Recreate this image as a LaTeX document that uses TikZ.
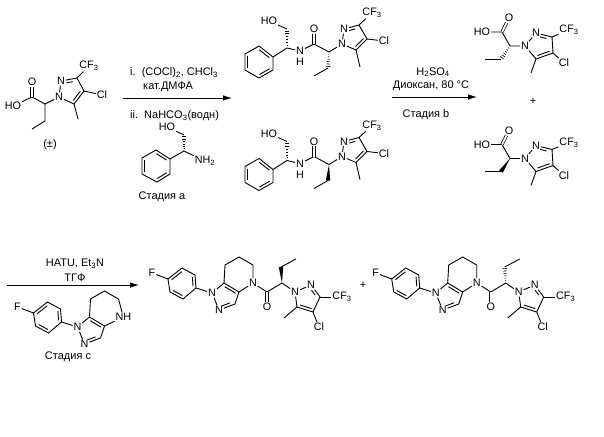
\documentclass[tikz,border=0pt]{standalone}
\usepackage{fontspec}
\setmainfont{Liberation Sans}
\usetikzlibrary{calc,arrows.meta}

\newcommand{\dbl}[3][.14]{\draw[bond] ($(#2)!#1!(#3)!2.8pt!90:(#3)$) -- ($(#3)!#1!(#2)!2.8pt!-90:(#2)$);}
\newcommand{\wedgeup}[2]{\fill ($(#1)$) -- ($(#2)!2.2pt!90:(#1)$) -- ($(#2)!2.2pt!-90:(#1)$) -- cycle;}
\newcommand{\wedgehash}[2]{\foreach \t in {.15,.3,.45,.6,.75,.9} \draw[line width=.6pt] ($(#1)!\t!(#2)!{\t*2.4pt}!90:(#2)$) -- ($(#1)!\t!(#2)!{\t*2.4pt}!-90:(#2)$);}

\newcommand{\benzene}[7]{
    \coordinate (#1a) at (#2);
    \coordinate (#1b) at (#3);
    \coordinate (#1c) at (#4);
    \coordinate (#1d) at (#5);
    \coordinate (#1e) at (#6);
    \coordinate (#1f) at (#7);
    \draw[bond] (#1a) -- (#1b) -- (#1c) -- (#1d) -- (#1e) -- (#1f) -- cycle;
    \dbl{#1a}{#1b}
    \dbl{#1c}{#1d}
    \dbl{#1e}{#1f}
}

\newcommand{\pyrazole}[9]{
    \node[atom] (#1n1) at (#2) {N};
    \node[atom] (#1n2) at (#3) {N};
    \coordinate (#1c3) at (#4);
    \coordinate (#1c4) at (#5);
    \coordinate (#1c5) at (#6);
    \node[atom] (#1cf) at (#7) {CF\textsubscript{3}};
    \node[atom] (#1cl) at (#8) {Cl};
    \coordinate (#1me) at (#9);
    \draw[bond] (#1n1) -- (#1n2) -- (#1c3) -- (#1c4) -- (#1c5) -- (#1n1);
    \dbl[.3]{#1c3}{#1n2}
    \dbl{#1c5}{#1c4}
    \draw[bond] (#1c3) -- (#1cf);
    \draw[bond] (#1c4) -- (#1cl);
    \draw[bond] (#1c5) -- (#1me);
}

\newcommand{\amide}[2]{
    \benzene{#1}{273,57}{259,46}{245,54}{245,70}{259,78}{273,70}
    \node[atom] (#1ho) at (269,21) {HO};
    \coordinate (#1ch2o) at (287,29);
    \coordinate (#1cs) at (287,48);
    \node[atom] (#1nh) at (300,51) {N};
    \node[atom] (#1h) at (300,62) {H};
    \coordinate (#1co) at (314,44);
    \node[atom] (#1o) at (314,29) {O};
    \coordinate (#1ch) at (329,52);
    \coordinate (#1et) at (328,68);
    \coordinate (#1me2) at (314,76);
    \pyrazole{#1p}{342,44}{344,29}{359,25}{367,39}{356,50}{372,13}{384,41}{360,67}
    \draw[bond] (#1ho) -- (#1ch2o);
    \wedgehash{#1cs}{#1ch2o}
    \draw[bond] (#1a) -- (#1cs) -- (#1nh) -- (#1co) -- (#1ch) -- (#1pn1);
    \draw[dblbond] (#1co) -- (#1o);
    \draw[bond] (#1et) -- (#1me2);
    #2{#1ch}{#1et}
}

\newcommand{\acid}[2]{
    \node[atom] (#1ho) at (482,32) {HO};
    \coordinate (#1co) at (502,32);
    \node[atom] (#1o) at (509,18) {O};
    \coordinate (#1ch) at (510,46);
    \coordinate (#1et) at (501,59);
    \coordinate (#1me2) at (485,59);
    \pyrazole{#1p}{525,46}{536,33}{552,37}{553,53}{536,59}{569,30}{564,63}{531,73}
    \draw[bond] (#1ho) -- (#1co) -- (#1ch) -- (#1pn1);
    \draw[dblbond] (#1co) -- (#1o);
    \draw[bond] (#1et) -- (#1me2);
    #2{#1ch}{#1et}
}

\newcommand{\core}[1]{
    \node[atom] (#1f) at (152,273) {F};
    \benzene{#1r}{182,268}{168,279}{170,292}{183,299}{196,288}{195,275}
    \node[atom] (#1n1) at (212,293) {N};
    \node[atom] (#1n2) at (219,310) {N};
    \coordinate (#1c3) at (235,304);
    \coordinate (#1c3a) at (239,292);
    \coordinate (#1c7a) at (224,283);
    \coordinate (#1c7) at (225,265);
    \coordinate (#1c6) at (239,257);
    \coordinate (#1c5) at (253,265);
    \draw[bond] (#1f) -- (#1rb);
    \draw[bond] (#1re) -- (#1n1) -- (#1n2) -- (#1c3) -- (#1c3a) -- (#1c7a) -- (#1n1);
    \dbl[.25]{#1n2}{#1c3}
    \dbl{#1c3a}{#1c7a}
    \draw[bond] (#1c7a) -- (#1c7) -- (#1c6) -- (#1c5);
}

\newcommand{\product}[2]{
    \core{#1}
    \node[atom] (#1n4) at (253,283) {N};
    \draw[bond] (#1c5) -- (#1n4) -- (#1c3a);
    \coordinate (#1co) at (267,292);
    \node[atom] (#1o) at (267,307) {O};
    \coordinate (#1ch) at (282,283);
    \coordinate (#1et) at (281,267);
    \coordinate (#1me2) at (296,259);
    \pyrazole{#1p}{295,292}{311,285}{320,297}{313,312}{297,307}{342,297}{319,327}{284,318}
    \draw[bond] (#1n4) -- (#1co) -- (#1ch) -- (#1pn1);
    \draw[dblbond] (#1co) -- (#1o);
    \draw[bond] (#1et) -- (#1me2);
    #2{#1ch}{#1et}
}

\begin{document}
\begin{tikzpicture}[x=1pt,y=-1pt]
    \tikzstyle{bond}=[line width=.9pt]
    \tikzstyle{dblbond}=[line width=.75pt,double,double distance=1.8pt]
    \tikzstyle{atom}=[inner sep=.8pt,font=\fontsize{10.8}{11}\selectfont]
    \tikzstyle{txt}=[inner sep=0pt,font=\fontsize{11}{13}\selectfont]
    \tikzstyle{fwd}=[draw=black,line width=.9pt]

    \useasboundingbox (0,0) rectangle (604,436);

    \pyrazole{ra}{59,97}{61,81}{77,78}{84,91}{74,104}{89,66}{102,95}{78,119}
    \node[atom] (raho) at (13,106) {HO};
    \coordinate (raco) at (32,97);
    \node[atom] (rao) at (32,82) {O};
    \coordinate (rach) at (45,104);
    \coordinate (raet) at (45,121);
    \coordinate (rame) at (32,129);
    \draw[bond] (raho) -- (raco) -- (rach) -- (ran1);
    \draw[dblbond] (raco) -- (rao);
    \draw[bond] (rach) -- (raet) -- (rame);
    \node[txt] (pm) at (50,145) {(±)};

    \node[txt,anchor=west] (ia) at (130,73) {i.\ \ (COCl)\textsubscript{2}, CHCl\textsubscript{3}};
    \node[txt,anchor=west] (ib) at (143,87) {кат.ДМФА};
    \node[txt,anchor=west] (ii) at (130,116) {ii.\ \ NaHCO\textsubscript{3}(водн)};

    \benzene{gl}{170,159}{156,150}{142,158}{142,174}{157,182}{170,174}
    \node[atom] (glho) at (167,127) {HO};
    \coordinate (glch2) at (184,135);
    \coordinate (glcs) at (184,151);
    \node[atom] (glnh) at (205,161) {NH\textsubscript{2}};
    \draw[bond] (glho) -- (glch2);
    \wedgehash{glcs}{glch2}
    \draw[bond] (gla) -- (glcs) -- (glnh);
    \node[txt] (sta) at (162,197) {Стадия а};

    \amide{up}{\wedgehash}
    \begin{scope}[shift={(0,112.5)}]
        \amide{lo}{\wedgeup}
    \end{scope}

    \node[txt] (hs) at (433,72) {H\textsubscript{2}SO\textsubscript{4}};
    \node[txt] (dx) at (431,86) {Диоксан, 80 °C};
    \node[txt] (stb) at (426,115) {Стадия b};

    \acid{au}{\wedgehash}
    \begin{scope}[shift={(0,112.5)}]
        \acid{al}{\wedgeup}
    \end{scope}
    \node[txt] (plusa) at (533,101) {+};

    \node[txt] (ht) at (75,264) {HATU, Et\textsubscript{3}N};
    \node[txt] (tg) at (75,278) {ТГФ};
    \begin{scope}[shift={(-134.5,34)}]
        \core{am}
        \node[atom,anchor=west] (amn) at (249,283) {NH};
        \draw[bond] (amc5) -- (amn) -- (amc3a);
    \end{scope}
    \node[txt] (stc) at (68,357) {Стадия с};

    \product{pa}{\wedgeup}
    \node[txt] (plusb) at (363,285) {+};
    \begin{scope}[shift={(223.7,0)}]
        \product{pb}{\wedgehash}
    \end{scope}

    \coordinate (a1s) at (123,98);
    \coordinate (a1e) at (232,98);
    \coordinate (a2s) at (392,97);
    \coordinate (a2e) at (477,97);
    \coordinate (a3s) at (7,285);
    \coordinate (a3e) at (139,285);

    \pgfsetarrowsend{Latex[length=9pt,width=5.5pt]}
    \draw [fwd] (a1s) -- (a1e);
    \draw [fwd] (a2s) -- (a2e);
    \draw [fwd] (a3s) -- (a3e);
\end{tikzpicture}
\end{document}
